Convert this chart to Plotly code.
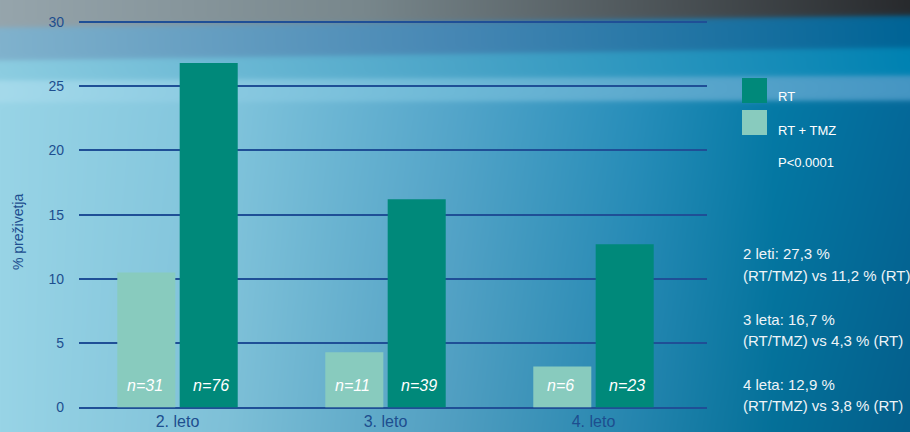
import base64, struct, zlib
import numpy as np
import plotly.graph_objects as go

# ---------------- data ----------------
categories = ["2. leto", "3. leto", "4. leto"]
rt_tmz_values = [10.5, 4.3, 3.2]      # light bars (RT + TMZ)
rt_values = [26.8, 16.2, 12.7]        # dark bars (RT)
rt_tmz_n = ["n=31", "n=11", "n=6"]
rt_n = ["n=76", "n=39", "n=23"]
y_ticks = [0, 5, 10, 15, 20, 25, 30]
side_notes = [
    ["2 leti: 27,3 %", "(RT/TMZ) vs 11,2 % (RT)"],
    ["3 leta: 16,7 %", "(RT/TMZ) vs 4,3 % (RT)"],
    ["4 leta: 12,9 %", "(RT/TMZ) vs 3,8 % (RT)"],
]

W, H = 910, 432
DARK = "#00897a"
LIGHT = "#88cbbe"
AXIS_BLUE = "#1d4e8f"
FONT = "Liberation Sans, Arial, sans-serif"


# ---------------- background image (decorative gradient) ----------------
def ramp(t, stops):
    pos = np.array([s[0] for s in stops])
    cols = np.array([s[1] for s in stops], dtype=float)
    return np.stack([np.interp(t, pos, cols[:, k]) for k in range(3)], axis=-1)


t = np.linspace(0, 1, W)
yy = np.arange(H)[:, None].astype(float)
base = ramp(t, [(0, (152, 212, 230)), (0.25, (130, 198, 222)), (0.5, (85, 168, 205)),
                (0.7, (40, 145, 190)), (0.85, (5, 125, 170)), (1, (5, 108, 158))])
img = np.broadcast_to(base, (H, W, 3)).copy()
dark = 1 - 0.12 * t[None, :] * (yy / H)
img *= dark[..., None]

bandA = ramp(t, [(0, (150, 165, 172)), (0.4, (120, 135, 140)), (0.7, (80, 88, 92)), (1, (40, 42, 45))])
bandB = ramp(t, [(0, (128, 178, 205)), (0.5, (70, 135, 180)), (1, (0, 100, 150))])
bandC = ramp(t, [(0, (140, 205, 225)), (0.5, (75, 165, 200)), (1, (0, 130, 178))])
bandD = ramp(t, [(0, (165, 218, 235)), (0.5, (110, 185, 215)), (1, (70, 150, 195))])

b1 = 27 - 12 * t
b2 = 60 - 13 * t
b3 = 80 - 5 * t
b4 = 102 - 2 * t


def step(edge, soft=1.5):
    return 1 / (1 + np.exp(-(yy - edge[None, :]) / soft))


wA = 1 - step(b1)
wB = step(b1) - step(b2)
wC = step(b2) - step(b3)
wD = step(b3) - step(b4)
wBase = step(b4)
img = (wA[..., None] * bandA[None] + wB[..., None] * bandB[None] + wC[..., None] * bandC[None]
       + wD[..., None] * bandD[None] + wBase[..., None] * img)
img = np.clip(img, 0, 255).astype(np.uint8)


def png_bytes(arr):
    h, w, _ = arr.shape
    raw = b"".join(b"\x00" + arr[r].tobytes() for r in range(h))

    def chunk(tag, data):
        c = struct.pack(">I", len(data)) + tag + data
        return c + struct.pack(">I", zlib.crc32(tag + data) & 0xFFFFFFFF)

    return (b"\x89PNG\r\n\x1a\n" + chunk(b"IHDR", struct.pack(">IIBBBBB", w, h, 8, 2, 0, 0, 0))
            + chunk(b"IDAT", zlib.compress(raw, 9)) + chunk(b"IEND", b""))


bg_uri = "data:image/png;base64," + base64.b64encode(png_bytes(img)).decode()

# ---------------- figure ----------------
xpos = list(range(len(categories)))
fig = go.Figure()
fig.add_trace(go.Bar(x=xpos, y=rt_tmz_values, name="RT + TMZ", marker_color=LIGHT,
                     marker_line_width=0))
fig.add_trace(go.Bar(x=xpos, y=rt_values, name="RT", marker_color=DARK, marker_line_width=0))

annotations = []
n_font = dict(family=FONT, size=16, color="white")
for i in xpos:
    annotations.append(dict(x=i, y=0, xref="x", yref="y", text="<i>" + rt_tmz_n[i] + "</i>",
                            showarrow=False, xshift=-33, yshift=12, xanchor="center",
                            yanchor="bottom", font=n_font))
    annotations.append(dict(x=i, y=0, xref="x", yref="y", text="<i>" + rt_n[i] + "</i>",
                            showarrow=False, xshift=33, yshift=12, xanchor="center",
                            yanchor="bottom", font=n_font))


def paper_text(xpx, ypx, text, font, xanchor="left", angle=0):
    return dict(x=xpx / W, y=1 - ypx / H, xref="paper", yref="paper", text=text,
                xanchor=xanchor, yanchor="middle", textangle=angle, showarrow=False, font=font)


# y-axis title
annotations.append(paper_text(18, 232, "% preživetja", dict(family=FONT, size=14, color=AXIS_BLUE),
                              xanchor="center", angle=-90))

# legend (custom)
leg_font = dict(family=FONT, size=13, color="white")
annotations.append(paper_text(776, 97, "RT", leg_font))
annotations.append(paper_text(776, 130, "RT + TMZ", leg_font))
annotations.append(paper_text(776, 162, "P<0.0001", leg_font))

note_font = dict(family=FONT, size=15, color="#eef4f8")
for k, (l1, l2) in enumerate(side_notes):
    yc1 = 254 + 65 * k
    annotations.append(paper_text(741, yc1, l1, note_font))
    annotations.append(paper_text(741, yc1 + 21, l2, note_font))

shapes = [
    dict(type="rect", xref="paper", yref="paper", x0=742 / W, x1=767 / W, y0=1 - 103 / H, y1=1 - 78 / H,
         fillcolor=DARK, line_width=0),
    dict(type="rect", xref="paper", yref="paper", x0=742 / W, x1=767 / W, y0=1 - 135 / H, y1=1 - 110 / H,
         fillcolor=LIGHT, line_width=0),
]

fig.update_layout(
    width=W, height=H,
    margin=dict(l=0, r=0, t=0, b=0, pad=0),
    paper_bgcolor="#5fa8c8",
    plot_bgcolor="rgba(0,0,0,0)",
    showlegend=False,
    barmode="group",
    bargap=0.4,
    bargroupgap=0.07,
    images=[dict(source=bg_uri, xref="paper", yref="paper", x=0, y=1, sizex=1, sizey=1,
                 xanchor="left", yanchor="top", sizing="stretch", layer="below")],
    annotations=annotations,
    shapes=shapes,
)
fig.update_xaxes(
    domain=[79 / W, 707 / W],
    range=[-0.4736, 2.5457],
    tickvals=xpos, ticktext=categories,
    showgrid=False, zeroline=False, showline=False, automargin=False,
    ticks="", ticklabelstandoff=2,
    tickfont=dict(family=FONT, size=16, color=AXIS_BLUE),
)
fig.update_yaxes(
    domain=[1 - 407.5 / H, 1 - 20.7 / H],
    range=[0, 30.1],
    tickvals=y_ticks,
    showgrid=True, gridcolor="#1f4f96", gridwidth=1.5,
    zeroline=True, zerolinecolor="#1f4f96", zerolinewidth=1.5,
    showline=False, automargin=False, ticks="", ticklabelstandoff=14,
    tickfont=dict(family=FONT, size=14, color=AXIS_BLUE),
)

fig.write_html("out.html")
